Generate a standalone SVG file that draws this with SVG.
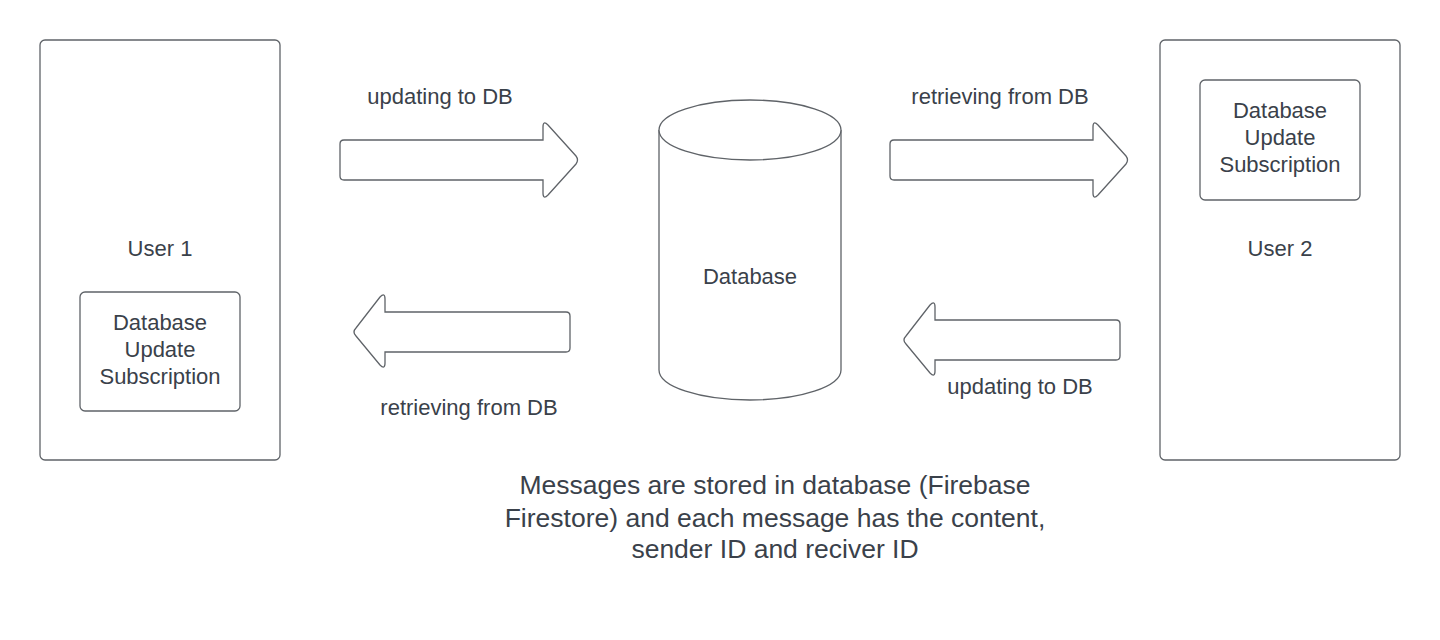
<svg xmlns="http://www.w3.org/2000/svg" width="1440" height="640" viewBox="0 0 1440 640">
<style>
.box{fill:#fff;stroke:#5f6368;stroke-width:1.3}
.t{font-family:"Liberation Sans",Arial,sans-serif;font-size:22px;fill:#3a414a;text-anchor:middle}
.big{font-family:"Liberation Sans",Arial,sans-serif;font-size:26.5px;fill:#3a414a;text-anchor:middle}
</style>
<rect width="1440" height="640" fill="#fff"/>
<g id="user1">
<rect class="box" x="40" y="40" width="240" height="420" rx="5"/>
<text class="t" x="160" y="256">User 1</text>
</g>
<g id="sub1">
<rect class="box" x="80" y="292" width="160" height="119" rx="5"/>
<text class="t" x="160" y="330">Database</text>
<text class="t" x="160" y="357">Update</text>
<text class="t" x="160" y="384">Subscription</text>
</g>
<g id="user2">
<rect class="box" x="1160" y="40" width="240" height="420" rx="5"/>
<text class="t" x="1280" y="256">User 2</text>
</g>
<g id="sub2">
<rect class="box" x="1200" y="80" width="160" height="120" rx="5"/>
<text class="t" x="1280" y="118">Database</text>
<text class="t" x="1280" y="145">Update</text>
<text class="t" x="1280" y="172">Subscription</text>
</g>
<g id="database">
<path class="box" d="M659,130 L659,370 A91,30 0 0 0 841,370 L841,130"/>
<ellipse class="box" cx="750" cy="130" rx="91" ry="30"/>
<text class="t" x="750" y="284">Database</text>
</g>
<g id="connectors">
<path class="box" d="M344,140 L543,140 L543,127 Q543,120 548,125 L576,156 Q579,160 576,164 L548,195 Q543,200 543,193 L543,180 L344,180 Q340,180 340,176 L340,144 Q340,140 344,140 Z"/>
<path class="box" d="M894,140 L1093,140 L1093,127 Q1093,120 1098,125 L1126,156 Q1129,160 1126,164 L1098,195 Q1093,200 1093,193 L1093,180 L894,180 Q890,180 890,176 L890,144 Q890,140 894,140 Z"/>
<path class="box" d="M566,312 L385,312 L385,299 Q385,292 380,297 L356,328 Q352,332 356,336 L380,365 Q385,370 385,363 L385,352 L566,352 Q570,352 570,348 L570,316 Q570,312 566,312 Z"/>
<path class="box" d="M1116,320 L935,320 L935,307 Q935,300 930,305 L906,336 Q902,340 906,344 L930,373 Q935,378 935,371 L935,360 L1116,360 Q1120,360 1120,356 L1120,324 Q1120,320 1116,320 Z"/>
<text class="t" x="440" y="104">updating to DB</text>
<text class="t" x="1000" y="104">retrieving from DB</text>
<text class="t" x="469" y="415">retrieving from DB</text>
<text class="t" x="1020" y="394">updating to DB</text>
</g>
<g id="note">
<text class="big" x="775" y="494">Messages are stored in database (Firebase</text>
<text class="big" x="775" y="527">Firestore) and each message has the content,</text>
<text class="big" x="775" y="558">sender ID and reciver ID</text>
</g>
</svg>
